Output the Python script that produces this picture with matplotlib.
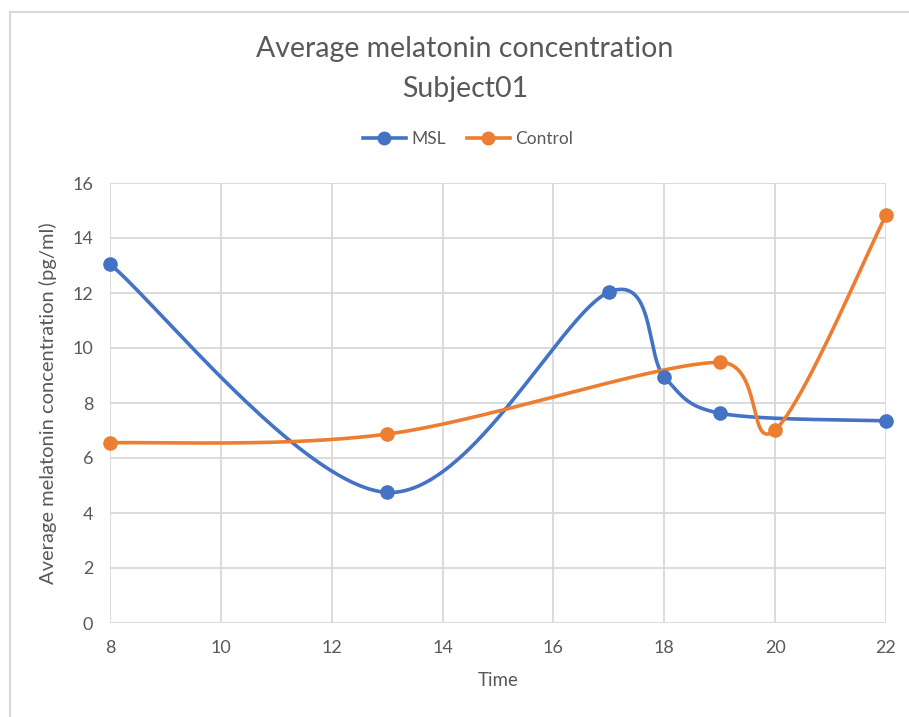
import numpy as np
import matplotlib
matplotlib.use("Agg")
import matplotlib.pyplot as plt
from matplotlib.lines import Line2D
from matplotlib.patches import Rectangle

# Sampling times (hour of day) and average melatonin concentration (pg/ml)
msl_time = [8, 13, 17, 18, 19, 22]
msl_conc = [13.05, 4.75, 12.03, 8.95, 7.63, 7.35]

control_time = [8, 13, 19, 20, 22]
control_conc = [6.55, 6.87, 9.48, 7.02, 14.83]

x_ticks = [8, 10, 12, 14, 16, 18, 20, 22]
y_ticks = [0, 2, 4, 6, 8, 10, 12, 14, 16]

BLUE = "#4472C4"
ORANGE = "#ED7D31"
TEXT = "#595959"
GRID = "#D9D9D9"
FONT = "Lato"


def smooth_curve(ax, xs, ys, n=80):
    """Spreadsheet-style smoothed line: cubic Bezier segments with
    Catmull-Rom handles (1/6 of the neighbour chord), each handle capped at
    half of its segment length, computed in display space."""
    p = ax.transData.transform(np.column_stack([xs, ys]).astype(float))
    pts = []
    for i in range(len(p) - 1):
        p0 = p[i - 1] if i > 0 else p[i]
        p1 = p[i]
        p2 = p[i + 1]
        p3 = p[i + 2] if i + 2 < len(p) else p[i + 1]
        d12 = np.linalg.norm(p2 - p1)
        a1 = (p2 - p0) / 6.0
        a2 = (p3 - p1) / 6.0
        for a in (a1, a2):
            la = np.linalg.norm(a)
            if la > d12 / 2:
                a *= (d12 / 2) / la
        c1 = p1 + a1
        c2 = p2 - a2
        t = np.linspace(0, 1, n)[:, None]
        seg = ((1 - t) ** 3) * p1 + 3 * ((1 - t) ** 2) * t * c1 \
            + 3 * (1 - t) * t ** 2 * c2 + t ** 3 * p2
        pts.append(seg if i == 0 else seg[1:])
    arr = ax.transData.inverted().transform(np.vstack(pts))
    return arr[:, 0], arr[:, 1]


fig = plt.figure(figsize=(9.09, 7.17), dpi=100)
fig.patch.set_facecolor("white")

# thin frame around the chart area
fig.add_artist(Rectangle((10 / 909, -0.05), 1.2, 1 - 12 / 717 + 0.05,
                         transform=fig.transFigure, fill=False,
                         edgecolor="#D9D9D9", linewidth=1.5))

ax = fig.add_axes([110 / 909, 94 / 717, 776 / 909, 440 / 717])
ax.set_xlim(8, 22)
ax.set_ylim(0, 16)
ax.set_xticks(x_ticks)
ax.set_yticks(y_ticks)
ax.grid(True, color=GRID, linewidth=1.3)
ax.set_axisbelow(True)
for s in ax.spines.values():
    s.set_visible(False)
ax.tick_params(length=0, colors=TEXT, labelsize=13, pad=12)
for lab in ax.get_xticklabels() + ax.get_yticklabels():
    lab.set_fontfamily(FONT)

for xs, ys, col, name in [(msl_time, msl_conc, BLUE, "MSL"),
                          (control_time, control_conc, ORANGE, "Control")]:
    cx, cy = smooth_curve(ax, xs, ys)
    ax.plot(cx, cy, color=col, linewidth=2.6, solid_capstyle="round", clip_on=False)
    ax.plot(xs, ys, linestyle="none", marker="o", markersize=9.5, color=col,
            clip_on=False, zorder=3)

ax.set_xlabel("Time", fontsize=13.5, color=TEXT, fontfamily=FONT, labelpad=12)
ax.set_ylabel("Average melatonin concentration (pg/ml)", fontsize=14.5,
              color=TEXT, fontfamily=FONT, labelpad=11)

title_x = 465 / 909
fig.text(title_x, 1 - 49 / 717, "Average melatonin concentration",
         ha="center", va="center", fontsize=20.5, color=TEXT, fontfamily=FONT)
fig.text(title_x, 1 - 89 / 717, "Subject01",
         ha="center", va="center", fontsize=20.5, color=TEXT, fontfamily=FONT)

handles = [Line2D([], [], color=BLUE, linewidth=2.6, marker="o", markersize=9),
           Line2D([], [], color=ORANGE, linewidth=2.6, marker="o", markersize=9)]
fig.legend(handles, ["MSL", "Control"], loc="center",
           bbox_to_anchor=(468 / 909, 1 - 139 / 717), ncol=2, frameon=False,
           handlelength=2.5, handletextpad=0.3, columnspacing=1.2,
           prop={"family": FONT, "size": 12.5}, labelcolor=TEXT)

fig.savefig("out.png", dpi=100)
